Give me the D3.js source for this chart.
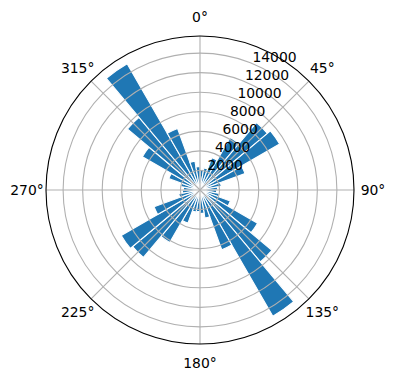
<!DOCTYPE html>
<html>
<head>
<meta charset="utf-8">
<script src="https://cdn.jsdelivr.net/npm/d3@7"></script>
<style>
  body { margin: 0; background: #fff; }
  svg { display: block; font-family: "DejaVu Sans", sans-serif; }
</style>
</head>
<body>
<div id="polar"></div>
<script>
// de data: begin van elke bin (graden) en het aantal per bin
var binStart = [0, 10, 20, 30, 40, 50, 60, 70, 80, 90, 100, 110,
  120, 130, 140, 150, 160, 170, 180, 190, 200, 210, 220, 230,
  240, 250, 260, 270, 280, 290, 300, 310, 320, 330, 340, 350]
var counts = [2100, 2300, 3500, 6200, 9000, 9400, 4900, 2200, 1800, 1700, 2000, 3300,
  6800, 9600, 14900, 6500, 2900, 2400, 2200, 2300, 3600, 6200, 9000, 9300,
  5000, 2200, 1800, 1700, 2000, 3400, 6800, 9700, 14900, 6700, 3000, 2400]
var rTicks = [2000, 4000, 6000, 8000, 10000, 12000, 14000]
var angleTicks = [0, 45, 90, 135, 180, 225, 270, 315]
var binWidth = 10

// maak de constante variabelen
const width = 396
const height = 380
const cx = 200
const cy = 190
const radius = 154

// radiale schaal
var rScale = d3.scaleLinear()
    .domain([0, d3.max(counts) * 1.057])
    .range([0, radius])

var toRad = function(deg) { return deg * Math.PI / 180; }

var svg = d3.select("#polar")
    .append("svg")
    .attr("width", width)
    .attr("height", height)
  .append("g")
    .attr("transform", "translate(" + cx + "," + cy + ")");

// teken de bars
var arc = d3.arc()
    .innerRadius(0)
    .outerRadius(function(d) { return rScale(d.value); })
    .startAngle(function(d) { return toRad(d.start); })
    .endAngle(function(d) { return toRad(d.start + binWidth); })

var bars = binStart.map(function(s, i) { return {start: s, value: counts[i]}; })

svg.append("g")
    .attr("class", "bars")
  .selectAll("path")
    .data(bars)
    .enter()
    .append("path")
    .attr("d", arc)
    .attr("fill", "#1f77b4")
    .attr("stroke", "#ffffff")
    .attr("stroke-width", 1.1)
    .attr("stroke-linejoin", "miter")

// grid cirkels
var grid = svg.append("g").attr("class", "grid")

grid.selectAll("circle")
    .data(rTicks)
    .enter()
    .append("circle")
    .attr("r", function(d) { return rScale(d); })
    .attr("fill", "none")
    .attr("stroke", "#b0b0b0")
    .attr("stroke-width", 1.1)

// grid lijnen per hoek
grid.selectAll("line")
    .data(angleTicks)
    .enter()
    .append("line")
    .attr("x1", 0)
    .attr("y1", 0)
    .attr("x2", function(d) { return radius * Math.sin(toRad(d)); })
    .attr("y2", function(d) { return -radius * Math.cos(toRad(d)); })
    .attr("stroke", "#b0b0b0")
    .attr("stroke-width", 1.1)

// buitenste cirkel
svg.append("circle")
    .attr("r", radius)
    .attr("fill", "none")
    .attr("stroke", "#000")
    .attr("stroke-width", 1.1)

// labels van de hoeken
svg.append("g")
    .attr("class", "angle-labels")
  .selectAll("text")
    .data(angleTicks)
    .enter()
    .append("text")
    .attr("x", function(d) { return (radius + 19) * Math.sin(toRad(d)); })
    .attr("y", function(d) { return -(radius + 19) * Math.cos(toRad(d)); })
    .attr("text-anchor", "middle")
    .attr("dominant-baseline", "central")
    .attr("font-size", "13.9px")
    .attr("fill", "#000")
    .text(function(d) { return d + "°"; })

// labels van de radiale as (op 22.5 graden)
svg.append("g")
    .attr("class", "r-labels")
  .selectAll("text")
    .data(rTicks)
    .enter()
    .append("text")
    .attr("x", function(d) { return rScale(d) * Math.sin(toRad(22.5)); })
    .attr("y", function(d) { return -rScale(d) * Math.cos(toRad(22.5)) - 2; })
    .attr("text-anchor", "start")
    .attr("font-size", "13.9px")
    .attr("fill", "#000")
    .text(function(d) { return d; })
</script>
</body>
</html>
